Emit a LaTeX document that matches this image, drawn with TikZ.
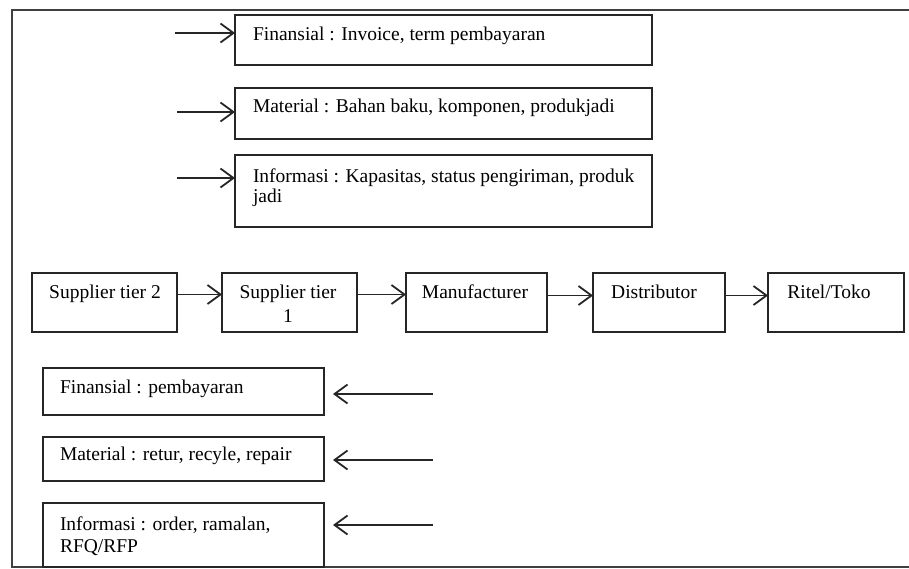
\documentclass[tikz,border=0pt]{standalone}
\usepackage{fontspec}
\setmainfont{Liberation Serif}
\usetikzlibrary{arrows.meta}
\begin{document}
\begin{tikzpicture}[x=1pt,y=-1pt,
  box/.style={draw=black!85,line width=2.3pt,inner sep=0pt,outer sep=0pt,anchor=north west},
  txt/.style={inner sep=0pt,outer sep=0pt,font=\fontsize{19.5}{21}\selectfont,text=black},
  arr/.style={draw=black!85,line width=1.8pt,-{Straight Barb[length=13pt,width=19pt,line width=1.8pt]}},
  frameline/.style={draw=black!75,line width=2.2pt}]
\useasboundingbox (0,0) rectangle (909,568);
% outer frame
\draw[frameline] (909,10) -- (12,10) -- (12,567) -- (909,567);
% top boxes
\node[box,minimum width=417pt,minimum height=50pt] (fin) at (235,15) {};
\node[box,minimum width=417pt,minimum height=51pt] (mat) at (235,88) {};
\node[box,minimum width=417pt,minimum height=72pt] (inf) at (235,155) {};
\node[txt,anchor=base west] (tfin) at (253,40) {Finansial : Invoice, term pembayaran};
\node[txt,anchor=base west] (tmat) at (253,112) {Material : Bahan baku, komponen, produkjadi};
\node[txt,anchor=base west] (tinf1) at (253,182) {Informasi : Kapasitas, status pengiriman, produk};
\node[txt,anchor=base west] (tinf2) at (253,202) {jadi};
\coordinate (afin) at (175,33);
\coordinate (amat) at (177,112);
\coordinate (ainf) at (177,178);
\draw[arr] (afin) -- (afin -| fin.west);
\draw[arr] (amat) -- (amat -| mat.west);
\draw[arr] (ainf) -- (ainf -| inf.west);
% supply chain row
\node[box,minimum width=145pt,minimum height=59pt] (s2) at (32,273) {};
\node[box,minimum width=135pt,minimum height=59pt] (s1) at (222,273) {};
\node[box,minimum width=141pt,minimum height=59pt] (mf) at (406,273) {};
\node[box,minimum width=132pt,minimum height=59pt] (ds) at (593,273) {};
\node[box,minimum width=136pt,minimum height=59pt] (rt) at (768,273) {};
\node[txt,anchor=base] (ts2) at (105,298) {Supplier tier 2};
\node[txt,anchor=base] (ts1a) at (288,298) {Supplier tier};
\node[txt,anchor=base] (ts1b) at (288,322) {1};
\node[txt,anchor=base] (tmf) at (475,298) {Manufacturer};
\node[txt,anchor=base] (tds) at (654,298) {Distributor};
\node[txt,anchor=base] (trt) at (829,298) {Ritel/Toko};
\draw[arr] ([yshift=8pt]s2.east) -- ([yshift=8pt]s1.west);
\draw[arr] ([yshift=8pt]s1.east) -- ([yshift=8pt]mf.west);
\draw[arr] ([yshift=7pt]mf.east) -- ([yshift=7pt]ds.west);
\draw[arr] ([yshift=7pt]ds.east) -- ([yshift=7pt]rt.west);
% bottom boxes
\node[box,minimum width=281pt,minimum height=47pt] (bf) at (43,368) {};
\node[box,minimum width=281pt,minimum height=44pt] (bm) at (43,437) {};
\node[box,minimum width=281pt,minimum height=64pt] (bi) at (43,503) {};
\node[txt,anchor=base west] (tbf) at (60,393) {Finansial : pembayaran};
\node[txt,anchor=base west] (tbm) at (60,460) {Material : retur, recyle, repair};
\node[txt,anchor=base west] (tbi1) at (60,530) {Informasi : order, ramalan,};
\node[txt,anchor=base west] (tbi2) at (60,552) {RFQ/RFP};
\coordinate (sbf) at (433,394);
\coordinate (ebf) at (333,394);
\coordinate (sbm) at (433,460);
\coordinate (ebm) at (333,460);
\coordinate (sbi) at (433,525);
\coordinate (ebi) at (333,525);
\draw[arr] (sbf) -- (ebf);
\draw[arr] (sbm) -- (ebm);
\draw[arr] (sbi) -- (ebi);
\end{tikzpicture}
\end{document}
